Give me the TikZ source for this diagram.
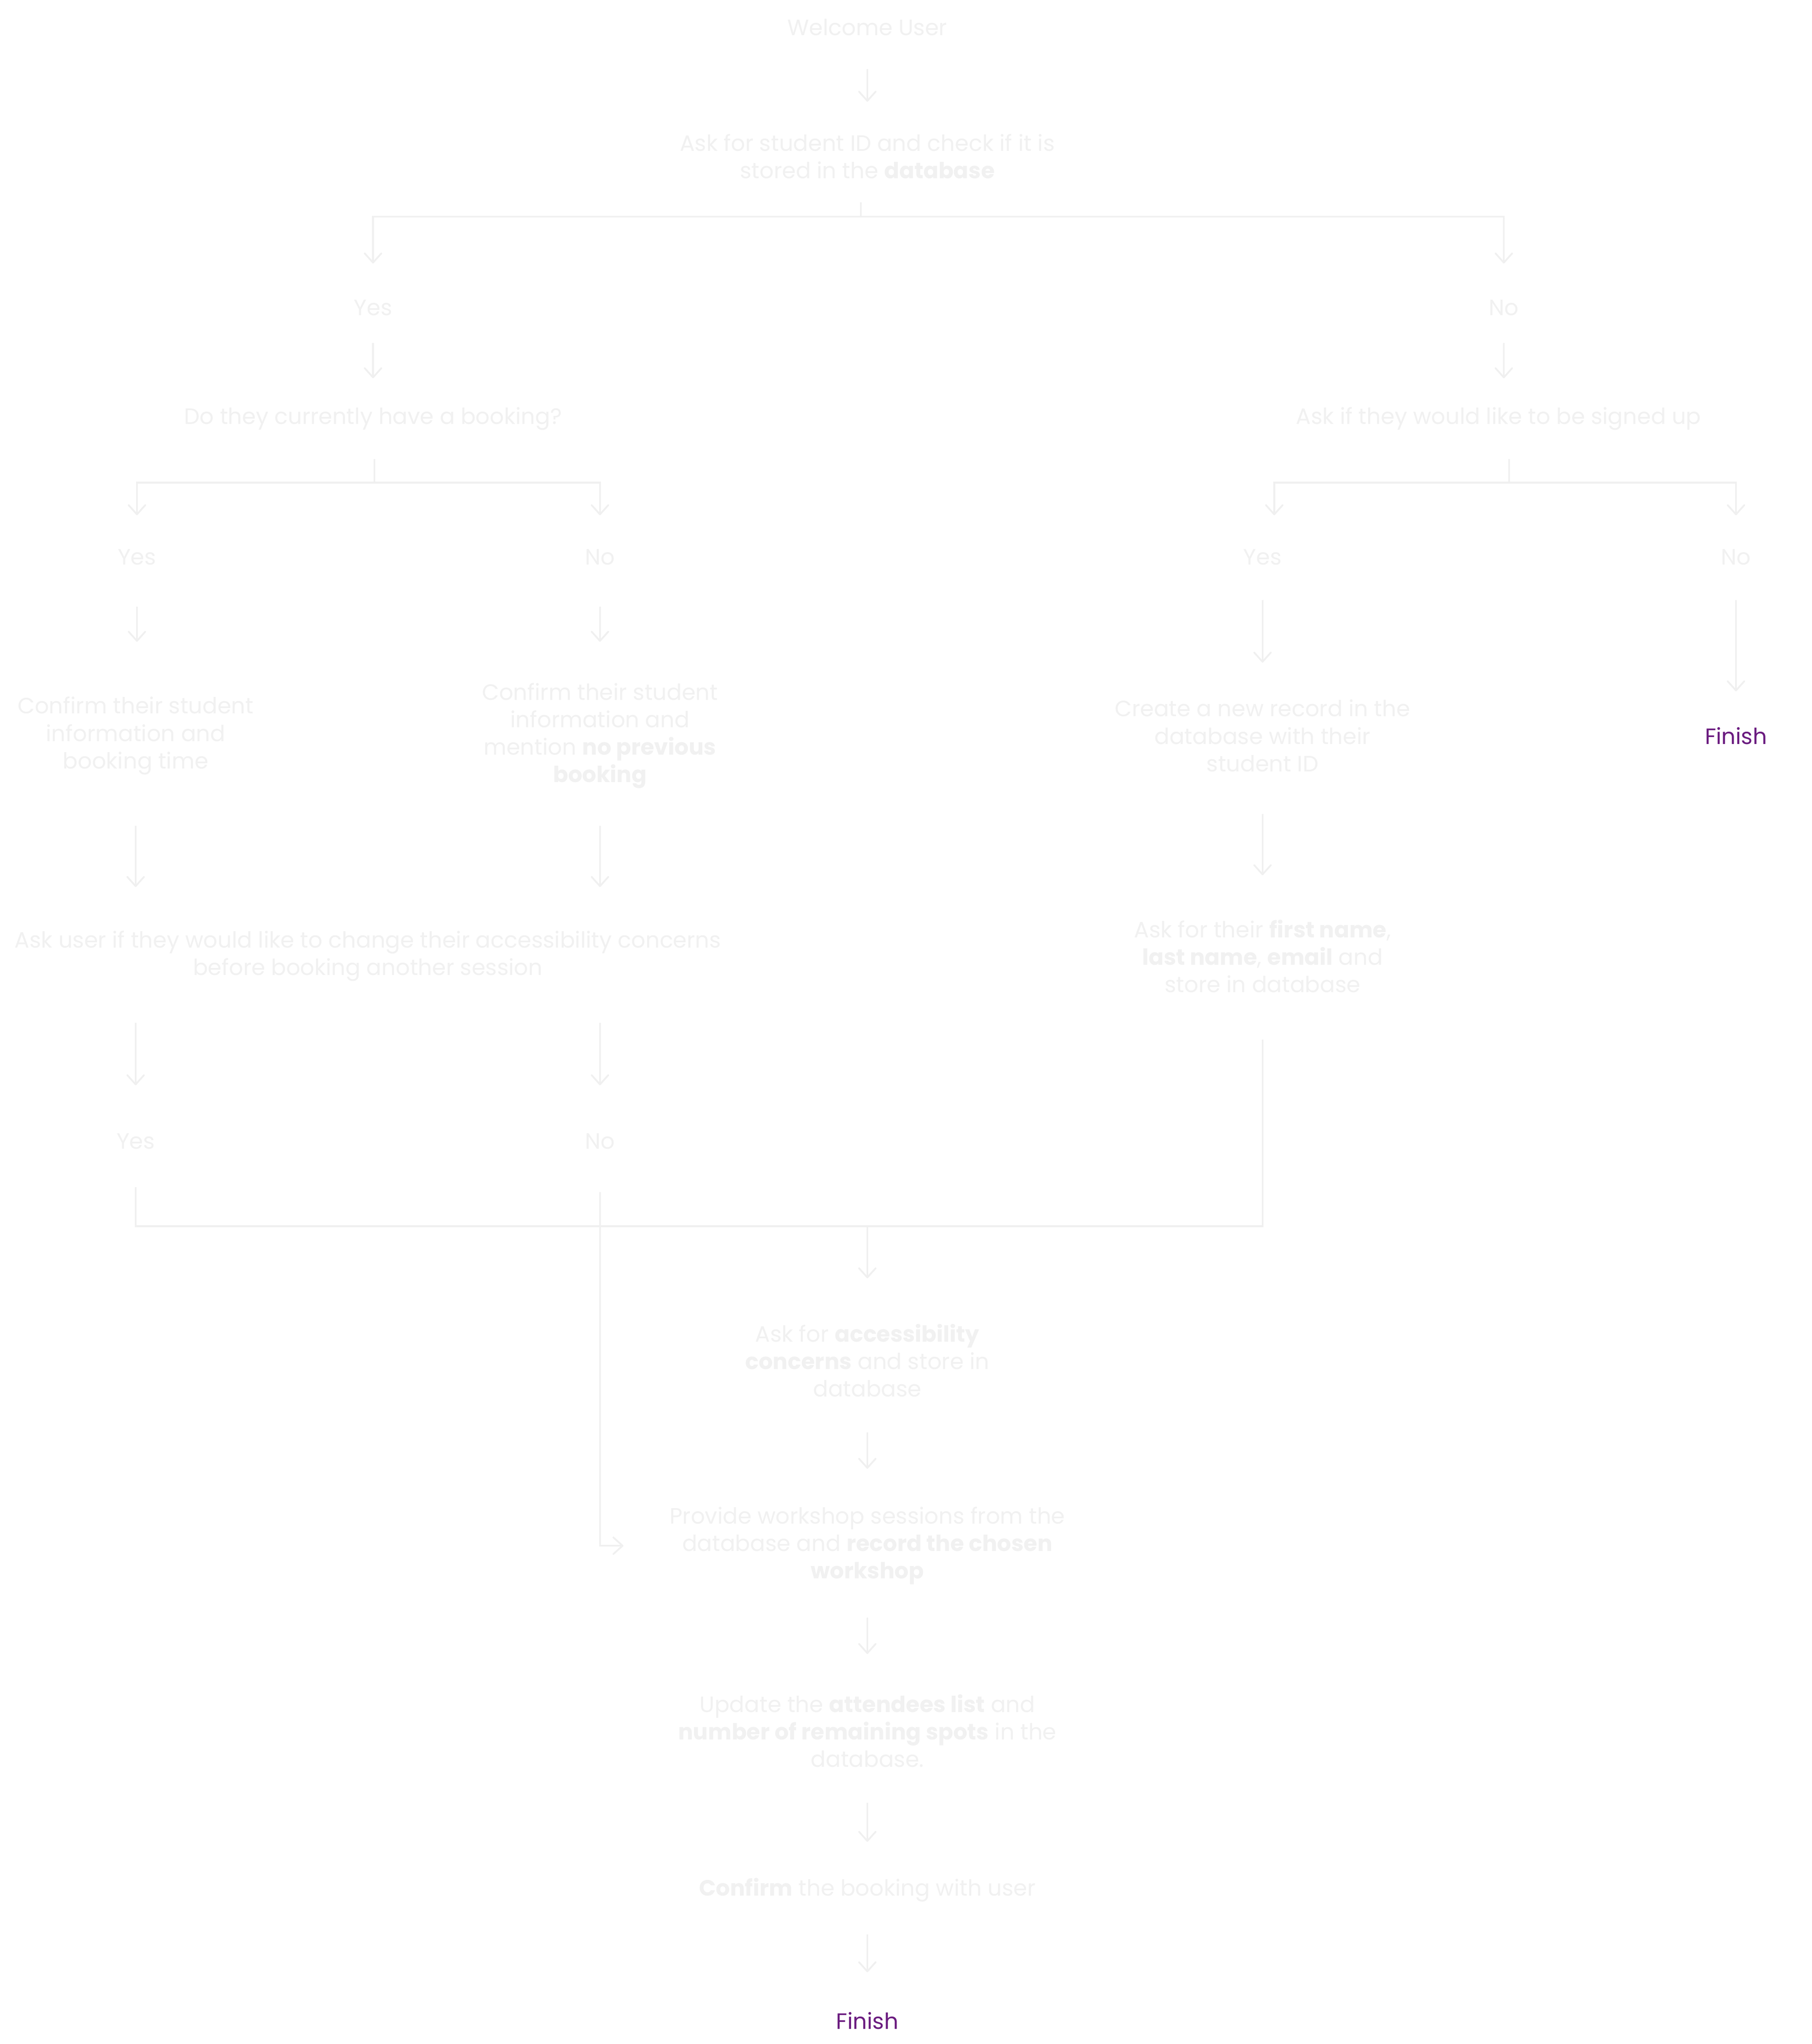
\documentclass[tikz,border=0pt]{standalone}
\usepackage{fontspec}
\setmainfont{Poppins}
\usetikzlibrary{arrows.meta,calc}
\definecolor{txtgray}{HTML}{F1F1F1}
\definecolor{lngray}{HTML}{F0F0F0}
\definecolor{finpurple}{HTML}{6A1B7F}
\begin{document}
\begin{tikzpicture}[x=0.05cm,y=-0.05cm,
  txt/.style={inner sep=0pt, align=center, yshift=-0.1cm, text=txtgray, font=\fontsize{24.2}{29.9}\selectfont},
  fin/.style={txt, text=finpurple},
  ln/.style={draw=lngray, line width=1.9pt},
  arr/.style={ln, -{Straight Barb[length=10pt,width=18pt,round]}}]
\useasboundingbox[fill=white] (0,0) rectangle (1389,1567);
% nodes
\node[txt] (welcome) at (665,19) {Welcome User};
\node[txt] (ask) at (665,118) {Ask for student ID and check if it is\\stored in the \textbf{database}};
\node[txt] (yes1) at (286,234) {Yes};
\node[txt] (no1) at (1153,234) {No};
\node[txt] (q1) at (286,319) {Do they currently have a booking?};
\node[txt] (q2) at (1149,319) {Ask if they would like to be signed up};
\node[txt] (y2) at (105,425) {Yes};
\node[txt] (n2) at (460,425) {No};
\node[txt] (y3) at (968,425) {Yes};
\node[txt] (n3) at (1331,425) {No};
\node[txt] (c1) at (104,562) {Confirm their student\\information and\\booking time};
\node[txt] (c2) at (460,562) {Confirm their student\\information and\\mention \textbf{no previous}\\\textbf{booking}};
\node[txt] (c3) at (968,562) {Create a new record in the\\database with their\\student ID};
\node[fin] (fin1) at (1331,562) {Finish};
\node[txt] (ask2) at (282,731) {Ask user if they would like to change their accessibility concerns\\before booking another session};
\node[txt] (f2) at (968,731) {Ask for their \textbf{first name},\\\textbf{last name}, \textbf{email} and\\store in database};
\node[txt] (y4) at (104,873) {Yes};
\node[txt] (n4) at (460,873) {No};
\node[txt] (acc) at (665,1041) {Ask for \textbf{accessibility}\\\textbf{concerns} and store in\\database};
\node[txt] (prov) at (665,1183) {Provide workshop sessions from the\\database and \textbf{record the chosen}\\\textbf{workshop}};
\node[txt] (upd) at (665,1325) {Update the \textbf{attendees list} and\\\textbf{number of remaining spots} in the\\database.};
\node[txt] (conf) at (665,1447) {\textbf{Confirm} the booking with user};
\node[fin] (fin2) at (665,1547) {Finish};
% junctions
\coordinate (j1) at (660,166);
\coordinate (j2) at (287,370);
\coordinate (j3) at (1157,370);
\coordinate (j5) at (968,940);
% connectors
\draw[arr, shorten <=1.6cm, shorten >=2.1cm] (welcome.center) -- (ask.center);
\draw[ln, shorten <=1.75cm] (j1 |- ask.center) -- (j1);
\draw[arr, shorten >=1.7cm] (j1) -| (yes1.center);
\draw[arr, shorten >=1.7cm] (j1) -| (no1.center);
\draw[arr, shorten <=1.35cm, shorten >=1.55cm] (yes1.center) -- (yes1.center |- q1.center);
\draw[arr, shorten <=1.35cm, shorten >=1.55cm] (no1.center) -- (no1.center |- q2.center);
\draw[ln, shorten <=1.55cm] (j2 |- q1.center) -- (j2);
\draw[arr, shorten >=1.6cm] (j2) -| (y2.center);
\draw[arr, shorten >=1.6cm] (j2) -| (n2.center);
\draw[ln, shorten <=1.55cm] (j3 |- q2.center) -- (j3);
\draw[arr, shorten >=1.6cm] (j3) -| ($(y3.center)+(9,0)$);
\draw[arr, shorten >=1.6cm] (j3) -| (n3.center);
\draw[arr, shorten <=1.9cm, shorten >=3.6cm] (y2.center) -- (y2.center |- c1.center);
\draw[arr, shorten <=1.9cm, shorten >=3.6cm] (n2.center) -- (n2.center |- c2.center);
\draw[arr, shorten <=1.65cm, shorten >=2.8cm] (y3.center) -- (y3.center |- c3.center);
\draw[arr, shorten <=1.65cm, shorten >=1.7cm] (n3.center) -- (fin1.center);
\draw[arr, shorten <=3.45cm, shorten >=2.65cm] (c1.center) -- (c1.center |- ask2.center);
\draw[arr, shorten <=3.45cm, shorten >=2.65cm] (c2.center) -- (c2.center |- ask2.center);
\draw[arr, shorten <=3cm, shorten >=3.1cm] (c3.center) -- (f2.center);
\draw[arr, shorten <=2.55cm, shorten >=2.15cm] (y4.center |- ask2.center) -- (y4.center);
\draw[arr, shorten <=2.55cm, shorten >=2.15cm] (n4.center |- ask2.center) -- (n4.center);
\draw[ln, shorten <=1.75cm, shorten >=3.2cm] (y4.center) |- (j5) -- (f2.center);
\draw[arr, shorten >=3.15cm] (acc.center |- j5) -- (acc.center);
\draw[arr, shorten <=1.95cm, shorten >=9.35cm] (n4.center) |- (prov.center);
\draw[arr, shorten <=2.75cm, shorten >=2.95cm] (acc.center) -- (prov.center);
\draw[arr, shorten <=2.75cm, shorten >=2.95cm] (prov.center) -- (upd.center);
\draw[arr, shorten <=2.75cm, shorten >=1.85cm] (upd.center) -- (conf.center);
\draw[arr, shorten <=1.7cm, shorten >=1.85cm] (conf.center) -- (fin2.center);
\end{tikzpicture}
\end{document}
